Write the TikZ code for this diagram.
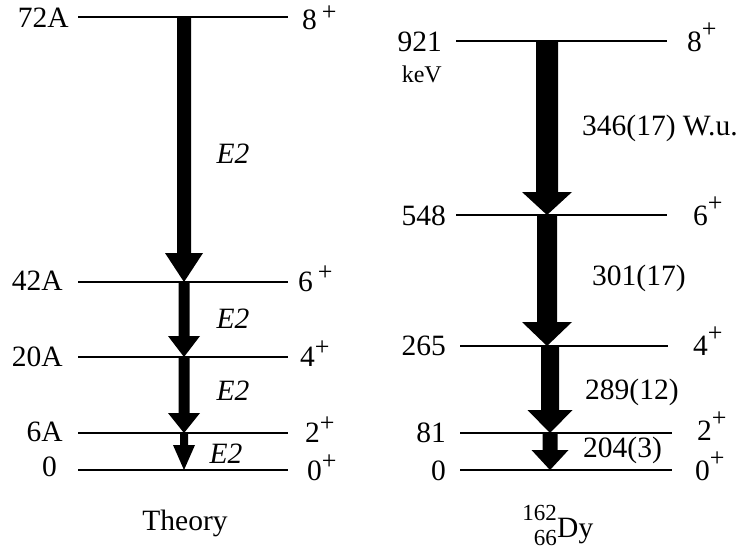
\documentclass[tikz,border=0pt]{standalone}
\usepackage{fontspec}
\setmainfont{Liberation Serif}
\usetikzlibrary{calc}
\newcommand\plsL{\fontsize{26}{28}\selectfont +}
\newcommand\plsR{\fontsize{26}{28}\selectfont +}
\newcommand\garrow[5]{\fill let \p1=(#1), \p2=(#2) in
 (\x1-#3pt,\y1) -- (\x1+#3pt,\y1) -- (\x1+#3pt,\y2+#5pt) -- (\x2+#4pt,\y2+#5pt) -- (\x2,\y2) -- (\x2-#4pt,\y2+#5pt) -- (\x1-#3pt,\y2+#5pt) -- cycle;}
\begin{document}
\begin{tikzpicture}[x=1pt,y=-1pt,
 lvl/.style={line width=2pt},
 txt/.style={inner sep=0pt, font=\fontsize{29.5}{33}\selectfont},
 el/.style={txt, anchor=base east},
 sl/.style={txt, anchor=base west},
 tl/.style={txt, anchor=base west},
 cl/.style={txt, anchor=base}]
\useasboundingbox (0,0) rectangle (743,552);
% ---------- Theory levels
\foreach \n/\y in {8/17,6/282,4/357,2/433,0/470}{
  \coordinate (La\n) at (78,\y);
  \coordinate (Lb\n) at (288,\y);
  \draw[lvl] (La\n) -- (Lb\n);
}
% arrow anchor points (theory)
\coordinate (LA8) at (184,17);
\coordinate (LA6) at (184,282);
\coordinate (LA4) at (184,357);
\coordinate (LA2) at (184,433);
\coordinate (LA0) at (184,470);
\garrow{LA8}{LA6}{7}{19}{29}
\garrow{LA6}{LA4}{5.5}{16}{21}
\garrow{LA4}{LA2}{5.5}{16}{20}
\garrow{LA2}{LA0}{4}{11}{25}
% energy labels (theory)
\node[el] (e8) at (69,27) {72A};
\node[el] (e6) at (63,290) {42A};
\node[el] (e4) at (63,366) {20A};
\node[el] (e2) at (63,441) {6A};
\node[el] (e0) at (57,476) {0};
% spin labels (theory)
\node[sl] (s8) at (302,29) {8\hspace{5pt}\raisebox{9pt}{\plsL}};
\node[sl] (s6) at (298,291) {6\hspace{5pt}\raisebox{11pt}{\plsL}};
\node[sl] (s4) at (300,366) {4\raisebox{11pt}{\plsL}};
\node[sl] (s2) at (305,442) {2\raisebox{11pt}{\plsL}};
\node[sl] (s0) at (307,480) {0\raisebox{11pt}{\plsL}};
% transition labels (theory)
\node[cl] (t86) at (233,163) {\textit{E2}};
\node[cl] (t64) at (233,328) {\textit{E2}};
\node[cl] (t42) at (233,400) {\textit{E2}};
\node[cl] (t20) at (226,463) {\textit{E2}};
\node[cl] (th) at (185,530) {Theory};
% ---------- Experiment levels
\foreach \n/\y/\xa/\xb in {8/41/456/667,6/215/456/667,4/346/460/668,2/433/460/672,0/470/460/672}{
  \coordinate (Ra\n) at (\xa,\y);
  \coordinate (Rb\n) at (\xb,\y);
  \draw[lvl] (Ra\n) -- (Rb\n);
}
\coordinate (RA8) at (547,41);
\coordinate (RA6) at (547,215);
\coordinate (RA4) at (547,346);
\coordinate (RA4b) at (550,346);
\coordinate (RA2) at (550,433);
\coordinate (RA0) at (550,470);
\garrow{RA8}{RA6}{11}{25}{23}
\garrow{RA6}{RA4}{10}{25}{24}
\garrow{RA4b}{RA2}{9}{22.5}{23}
\garrow{RA2}{RA0}{7.5}{18.5}{20}
% energy labels (experiment)
\node[el] (f8) at (442,51) {921};
\node[txt, anchor=base east] (kev) at (442,82) {\fontsize{24}{27}\selectfont keV};
\node[el] (f6) at (446,225) {548};
\node[el] (f4) at (446,355) {265};
\node[el] (f2) at (446,442) {81};
\node[el] (f0) at (446,480) {0};
% spin labels (experiment)
\node[sl] (r8) at (687,51) {8\raisebox{14pt}{\plsR}};
\node[sl] (r6) at (693,225) {6\raisebox{14pt}{\plsR}};
\node[sl] (r4) at (693,355) {4\raisebox{14pt}{\plsR}};
\node[sl] (r2) at (697,440) {2\raisebox{14pt}{\plsR}};
\node[sl] (r0) at (695,480) {0\raisebox{14pt}{\plsR}};
% transition labels (experiment)
\node[tl] (b86) at (582,135) {346(17) W.u.};
\node[tl] (b64) at (592,285) {301(17)};
\node[tl] (b42) at (585,399) {289(12)};
\node[tl] (b20) at (583,457) {204(3)};
% nucleus label
\node[txt, anchor=base west] (dy) at (557,537) {Dy};
\node[txt, anchor=base east] (mass) at (557,520) {\fontsize{23}{26}\selectfont 162};
\node[txt, anchor=base east] (zz) at (557,545) {\fontsize{23}{26}\selectfont 66};
\end{tikzpicture}
\end{document}
